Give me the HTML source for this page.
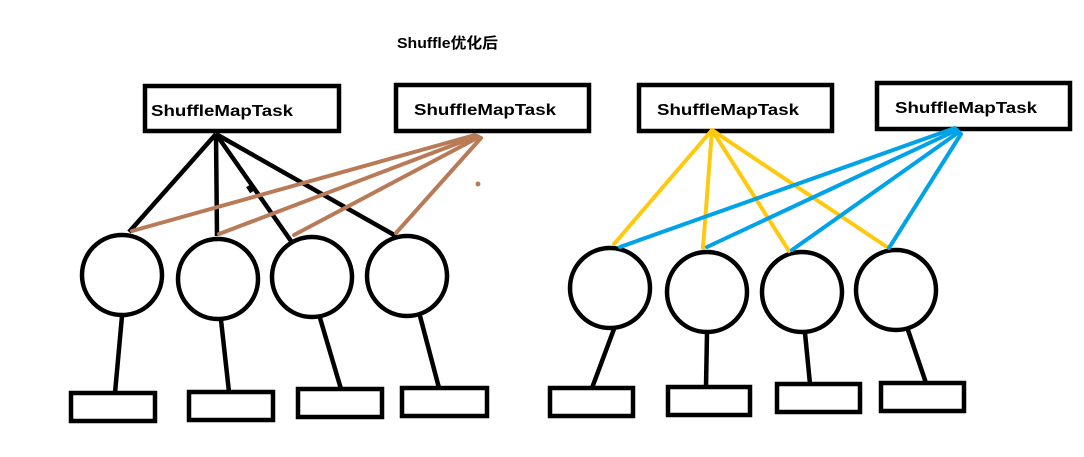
<!DOCTYPE html>
<html><head><meta charset="utf-8"><style>
html,body{margin:0;padding:0;background:#fff;}
svg{display:block}
text{font-family:"Liberation Sans","Noto Sans CJK SC",sans-serif;font-weight:bold;font-size:16px;fill:#000}
</style></head><body>
<svg width="1084" height="457" viewBox="0 0 1084 457" xmlns="http://www.w3.org/2000/svg">
<text x="397" y="48" style="font-size:15px" textLength="101" lengthAdjust="spacingAndGlyphs">Shuffle优化后</text>
<g fill="none" stroke="#000" stroke-width="4.5">
<rect x="145" y="86" width="194" height="45"/>
<rect x="396" y="85" width="193" height="46"/>
<rect x="639" y="85" width="193" height="46"/>
<rect x="877" y="83" width="193" height="46"/>
<rect x="71" y="393" width="84" height="28"/>
<rect x="189" y="392" width="84" height="28"/>
<rect x="298" y="389" width="84" height="28"/>
<rect x="402" y="388" width="85" height="28"/>
<rect x="550" y="388" width="83" height="28"/>
<rect x="668" y="387" width="82" height="28"/>
<rect x="777" y="384" width="83" height="28"/>
<rect x="881" y="383" width="83" height="28"/>
<line x1="216" y1="134" x2="129" y2="232"/>
<line x1="216" y1="134" x2="217" y2="236"/>
<line x1="216" y1="134" x2="291" y2="241"/>
<line x1="216" y1="134" x2="396" y2="236"/>
<line x1="248" y1="186" x2="252" y2="192"/>
<line x1="122" y1="316" x2="115" y2="393"/>
<line x1="221" y1="320" x2="229" y2="392"/>
<line x1="320" y1="318" x2="341" y2="389"/>
<line x1="420" y1="316" x2="439" y2="388"/>
<line x1="614" y1="329" x2="592" y2="388"/>
<line x1="707" y1="333" x2="706" y2="387"/>
<line x1="805" y1="333" x2="810" y2="384"/>
<line x1="908" y1="330" x2="926" y2="383"/>
<circle cx="122" cy="275" r="40"/>
<circle cx="218" cy="279" r="40"/>
<circle cx="312" cy="277" r="40"/>
<circle cx="407" cy="276" r="40"/>
<circle cx="610" cy="288" r="40"/>
<circle cx="707" cy="292" r="40"/>
<circle cx="802" cy="292" r="40"/>
<circle cx="896" cy="290" r="40"/>
</g>
<g stroke="#b97a57" stroke-width="4" stroke-linecap="round">
<line x1="475" y1="135" x2="132" y2="231"/>
<line x1="477" y1="136" x2="219" y2="234"/>
<line x1="479" y1="137" x2="294" y2="235"/>
<line x1="481" y1="138" x2="396" y2="233"/>
</g>
<circle cx="478" cy="184" r="2.5" fill="#b97a57"/>
<g stroke="#ffc90e" stroke-width="4" stroke-linecap="round">
<line x1="712" y1="130" x2="614" y2="244"/>
<line x1="712" y1="130" x2="703" y2="248"/>
<line x1="712" y1="130" x2="789" y2="251"/>
<line x1="712" y1="130" x2="887" y2="247"/>
</g>
<g stroke="#00a2e8" stroke-width="4" stroke-linecap="round">
<line x1="955" y1="128" x2="620" y2="247"/>
<line x1="957" y1="130" x2="707" y2="247"/>
<line x1="959" y1="132" x2="792" y2="250"/>
<line x1="961" y1="134" x2="889" y2="248"/>
</g>
<text x="151" y="116" textLength="142" lengthAdjust="spacingAndGlyphs">ShuffleMapTask</text>
<text x="414" y="115" textLength="142" lengthAdjust="spacingAndGlyphs">ShuffleMapTask</text>
<text x="657" y="115" textLength="142" lengthAdjust="spacingAndGlyphs">ShuffleMapTask</text>
<text x="895" y="113" textLength="142" lengthAdjust="spacingAndGlyphs">ShuffleMapTask</text>
</svg>
</body></html>
